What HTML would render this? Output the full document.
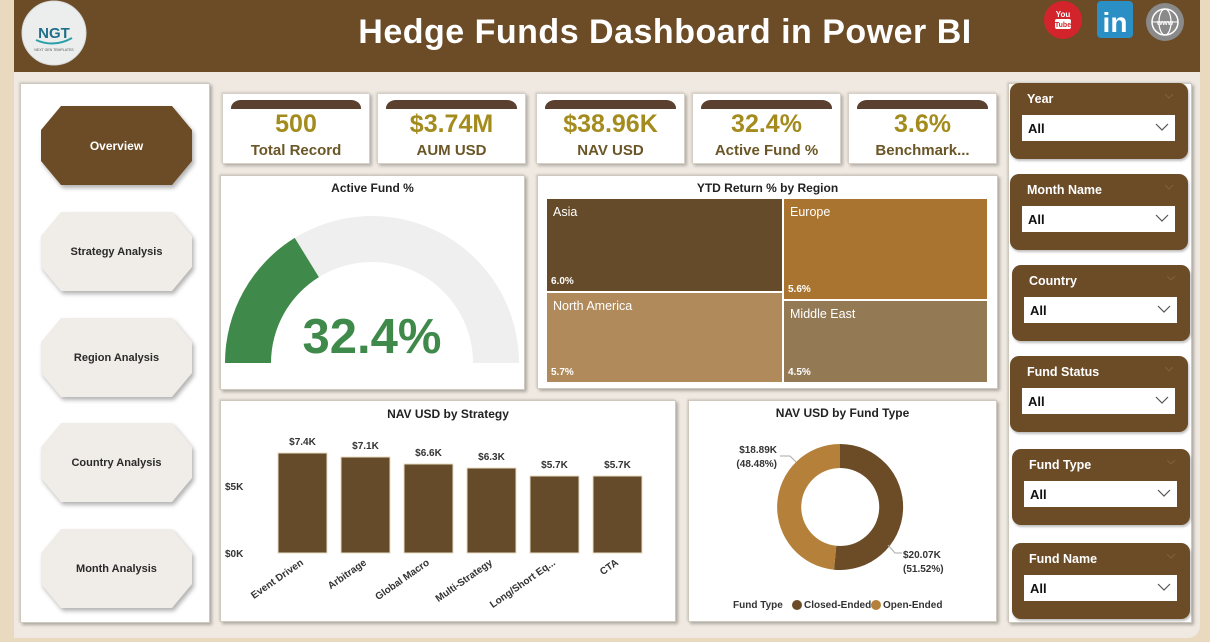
<!DOCTYPE html>
<html><head><meta charset="utf-8">
<style>
*{margin:0;padding:0;box-sizing:border-box}
html,body{width:1210px;height:642px;overflow:hidden;background:#e8d9bf;font-family:"Liberation Sans",sans-serif}
.abs{position:absolute}
#hdr{left:14px;top:0;width:1186px;height:72px;background:#6b4c27}
#main{left:14px;top:72px;width:1186px;height:566px;background:#efe9e1;border-radius:0 0 12px 0}
.panel{position:absolute;background:#fff;border:1px solid #cfc8bd;box-shadow:2px 2px 3px rgba(0,0,0,.28),-1px -1px 2px rgba(0,0,0,.12)}
.title{position:absolute;left:0;right:0;text-align:center;font-weight:bold;font-size:12px;color:#222}
.kpi{position:absolute;top:93px;height:71px;background:#fff;border:1px solid #d6d0c6;box-shadow:2px 2px 3px rgba(0,0,0,.25),-1px -1px 2px rgba(0,0,0,.1)}
.kpi .tab{position:absolute;left:8px;right:8px;top:6px;height:9px;background:#5b4030;border-radius:10px 10px 0 0/8px 8px 0 0}
.kpi .v{position:absolute;left:0;right:0;top:16px;text-align:center;font-weight:bold;font-size:25px;color:#a38c1d}
.kpi .l{position:absolute;left:0;right:0;top:48px;text-align:center;font-weight:bold;font-size:15px;color:#6a5626}
.nav{position:absolute;left:41px;width:151px;height:79px;filter:drop-shadow(2px 3px 2px rgba(0,0,0,.3))}
.nav div{width:100%;height:100%;clip-path:polygon(20px 0,131px 0,151px 24px,151px 55px,131px 79px,20px 79px,0 55px,0 24px);display:flex;align-items:center;justify-content:center;font-weight:bold;font-size:11px;color:#2a2a2a;background:#f0ece7}
.sl{position:absolute;width:178px;height:76px;background:#6b4c27;border-radius:9px;box-shadow:1px 2px 2px rgba(0,0,0,.25)}
.sl .t{position:absolute;left:17px;top:9px;font-weight:bold;font-size:12.5px;color:#fff}
.sl .c{position:absolute;right:14px;top:10px}
.sl .b{position:absolute;left:12px;top:32px;width:153px;height:26px;background:#fff}
.sl .b span{position:absolute;left:6px;top:6px;font-weight:bold;font-size:13px;color:#111}
.sl .b svg{position:absolute;right:6px;top:8px}
.tm{position:absolute;color:#fff}
.tm .n{position:absolute;left:6px;top:6px;font-size:12.5px}
.tm .p{position:absolute;left:4px;bottom:4px;font-size:10px;font-weight:bold}
</style></head><body>
<div id="hdr" class="abs"></div>
<div id="main" class="abs"></div>

<!-- logo -->
<svg class="abs" style="left:20px;top:0" width="70" height="68">
<circle cx="34" cy="33" r="32" fill="#eceeee" stroke="#d8dada" stroke-width="1"/>
<text x="34" y="38" text-anchor="middle" font-family="Liberation Sans" font-weight="bold" font-size="15" fill="#1f6f8b">NGT</text>
<path d="M16 40 Q34 48 52 38" stroke="#2aa0a8" stroke-width="2" fill="none"/>
<text x="34" y="51" text-anchor="middle" font-family="Liberation Sans" font-size="3.5" fill="#555">NEXT GEN TEMPLATES</text>
</svg>
<div class="abs" style="left:265px;top:13px;width:800px;text-align:center;color:#fff;font-weight:bold;font-size:34px;letter-spacing:0.5px">Hedge Funds Dashboard in Power BI</div>
<!-- icons -->
<svg class="abs" style="left:1040px;top:0" width="170" height="44">
<circle cx="23" cy="20" r="19" fill="#d4242b"/>
<text x="23" y="17" text-anchor="middle" font-family="Liberation Sans" font-weight="bold" font-size="8" fill="#fff">You</text>
<rect x="15" y="19" width="16" height="10" rx="2" fill="#fff"/>
<text x="23" y="27" text-anchor="middle" font-family="Liberation Sans" font-weight="bold" font-size="7" fill="#d4242b">Tube</text>
<rect x="57" y="1" width="36" height="37" rx="4" fill="#2a8fc4"/>
<text x="75" y="32" text-anchor="middle" font-family="Liberation Sans" font-weight="bold" font-size="28" fill="#fff">in</text>
<circle cx="125" cy="22" r="19" fill="#8a8a8a"/>
<circle cx="125" cy="22" r="13" fill="none" stroke="#fff" stroke-width="1.5"/>
<ellipse cx="125" cy="22" rx="6" ry="13" fill="none" stroke="#fff" stroke-width="1.2"/>
<line x1="112" y1="22" x2="138" y2="22" stroke="#fff" stroke-width="1"/>
<text x="125" y="25" text-anchor="middle" font-family="Liberation Sans" font-weight="bold" font-size="7" fill="#fff">www</text>
</svg>

<!-- left nav -->
<div class="panel" style="left:20px;top:83px;width:190px;height:540px"></div>
<div class="nav" style="top:106px"><div style="background:#6b4c27;color:#fff;font-size:12px">Overview</div></div>
<div class="nav" style="top:212px"><div>Strategy Analysis</div></div>
<div class="nav" style="top:318px"><div>Region Analysis</div></div>
<div class="nav" style="top:423px"><div>Country Analysis</div></div>
<div class="nav" style="top:529px"><div>Month Analysis</div></div>

<!-- KPIs -->
<div class="kpi" style="left:222px;width:148px"><div class="tab"></div><div class="v">500</div><div class="l">Total Record</div></div>
<div class="kpi" style="left:377px;width:149px"><div class="tab"></div><div class="v">$3.74M</div><div class="l">AUM USD</div></div>
<div class="kpi" style="left:536px;width:149px"><div class="tab"></div><div class="v">$38.96K</div><div class="l">NAV USD</div></div>
<div class="kpi" style="left:692px;width:149px"><div class="tab"></div><div class="v">32.4%</div><div class="l">Active Fund %</div></div>
<div class="kpi" style="left:848px;width:149px"><div class="tab"></div><div class="v">3.6%</div><div class="l">Benchmark...</div></div>

<!-- gauge -->
<div class="panel" style="left:220px;top:175px;width:305px;height:215px"><div class="title" style="top:5px">Active Fund %</div></div>
<svg class="abs" style="left:0;top:0" width="1210" height="642">
<path d="M225 363 A147 147 0 0 1 519 363 L473 363 A101 101 0 0 0 271 363 Z" fill="#efefef"/>
<path d="M225 363 A147 147 0 0 1 294.7 237.9 L318.9 277.1 A101 101 0 0 0 271 363 Z" fill="#3f8a4a"/>
<text x="372" y="353" text-anchor="middle" font-family="Liberation Sans" font-weight="bold" font-size="49" fill="#3f8a4a">32.4%</text>
</svg>

<!-- treemap -->
<div class="panel" style="left:537px;top:175px;width:461px;height:214px"><div class="title" style="top:5px">YTD Return % by Region</div></div>
<div class="tm" style="left:547px;top:199px;width:235px;height:92px;background:#654b29"><span class="n">Asia</span><span class="p">6.0%</span></div>
<div class="tm" style="left:547px;top:293px;width:235px;height:89px;background:#b08a5a"><span class="n">North America</span><span class="p">5.7%</span></div>
<div class="tm" style="left:784px;top:199px;width:203px;height:100px;background:#a9742f"><span class="n">Europe</span><span class="p">5.6%</span></div>
<div class="tm" style="left:784px;top:301px;width:203px;height:81px;background:#937a55"><span class="n">Middle East</span><span class="p">4.5%</span></div>

<!-- bar chart -->
<div class="panel" style="left:220px;top:400px;width:456px;height:222px"><div class="title" style="top:6px">NAV USD by Strategy</div></div>
<svg class="abs" style="left:0;top:0" width="1210" height="642" font-family="Liberation Sans" font-weight="bold" font-size="10" fill="#333">
<text x="225" y="490">$5K</text>
<text x="225" y="557">$0K</text>
<g fill="#654b29" stroke="#e8dcc4" stroke-width="1">
<rect x="278" y="453" width="49" height="100"/>
<rect x="341" y="457" width="49" height="96"/>
<rect x="404" y="464" width="49" height="89"/>
<rect x="467" y="468" width="49" height="85"/>
<rect x="530" y="476" width="49" height="77"/>
<rect x="593" y="476" width="49" height="77"/>
</g>
<g text-anchor="middle">
<text x="302.5" y="445">$7.4K</text>
<text x="365.5" y="449">$7.1K</text>
<text x="428.5" y="456">$6.6K</text>
<text x="491.5" y="460">$6.3K</text>
<text x="554.5" y="468">$5.7K</text>
<text x="617.5" y="468">$5.7K</text>
</g>
<g text-anchor="end">
<text x="304" y="564" transform="rotate(-35 304 564)">Event Driven</text>
<text x="367" y="564" transform="rotate(-35 367 564)">Arbitrage</text>
<text x="430" y="564" transform="rotate(-35 430 564)">Global Macro</text>
<text x="493" y="564" transform="rotate(-35 493 564)">Multi-Strategy</text>
<text x="556" y="564" transform="rotate(-35 556 564)">Long/Short Eq...</text>
<text x="619" y="564" transform="rotate(-35 619 564)">CTA</text>
</g>
</svg>

<!-- donut -->
<div class="panel" style="left:688px;top:400px;width:309px;height:222px"><div class="title" style="top:5px">NAV USD by Fund Type</div></div>
<svg class="abs" style="left:0;top:0" width="1210" height="642" font-family="Liberation Sans" font-weight="bold" font-size="10" fill="#333">
<path d="M840 444 A63 63 0 1 1 834 569.7 L836.3 545.8 A39 39 0 1 0 840 468 Z" fill="#6b4c27"/>
<path d="M834 569.7 A63 63 0 0 1 840 444 L840 468 A39 39 0 0 0 836.3 545.8 Z" fill="#b5803a"/>
<polyline points="780,456 790,456 796,462" fill="none" stroke="#aaa" stroke-width="1"/>
<polyline points="888,545 895,553 902,553" fill="none" stroke="#aaa" stroke-width="1"/>
<text x="777" y="453" text-anchor="end">$18.89K</text>
<text x="777" y="467" text-anchor="end">(48.48%)</text>
<text x="903" y="558">$20.07K</text>
<text x="903" y="572">(51.52%)</text>
<text x="733" y="608" font-size="10">Fund Type</text>
<circle cx="797" cy="605" r="5" fill="#6b4c27"/>
<text x="804" y="608">Closed-Ended</text>
<circle cx="876" cy="605" r="5" fill="#b5803a"/>
<text x="883" y="608">Open-Ended</text>
</svg>

<!-- right slicers -->
<div class="panel" style="left:1008px;top:83px;width:184px;height:540px"></div>
<div class="sl" style="left:1010px;top:83px"><div class="t">Year</div><svg class="c" width="10" height="6"><polyline points="1,1 5,5 9,1" fill="none" stroke="#7d6140" stroke-width="1"/></svg><div class="b"><span>All</span><svg width="14" height="9"><polyline points="1,1 7,7 13,1" fill="none" stroke="#555" stroke-width="1.2"/></svg></div></div>
<div class="sl" style="left:1010px;top:174px"><div class="t">Month Name</div><svg class="c" width="10" height="6"><polyline points="1,1 5,5 9,1" fill="none" stroke="#7d6140" stroke-width="1"/></svg><div class="b"><span>All</span><svg width="14" height="9"><polyline points="1,1 7,7 13,1" fill="none" stroke="#555" stroke-width="1.2"/></svg></div></div>
<div class="sl" style="left:1012px;top:265px"><div class="t">Country</div><svg class="c" width="10" height="6"><polyline points="1,1 5,5 9,1" fill="none" stroke="#7d6140" stroke-width="1"/></svg><div class="b"><span>All</span><svg width="14" height="9"><polyline points="1,1 7,7 13,1" fill="none" stroke="#555" stroke-width="1.2"/></svg></div></div>
<div class="sl" style="left:1010px;top:356px"><div class="t">Fund Status</div><svg class="c" width="10" height="6"><polyline points="1,1 5,5 9,1" fill="none" stroke="#7d6140" stroke-width="1"/></svg><div class="b"><span>All</span><svg width="14" height="9"><polyline points="1,1 7,7 13,1" fill="none" stroke="#555" stroke-width="1.2"/></svg></div></div>
<div class="sl" style="left:1012px;top:449px"><div class="t">Fund Type</div><svg class="c" width="10" height="6"><polyline points="1,1 5,5 9,1" fill="none" stroke="#7d6140" stroke-width="1"/></svg><div class="b"><span>All</span><svg width="14" height="9"><polyline points="1,1 7,7 13,1" fill="none" stroke="#555" stroke-width="1.2"/></svg></div></div>
<div class="sl" style="left:1012px;top:543px"><div class="t">Fund Name</div><svg class="c" width="10" height="6"><polyline points="1,1 5,5 9,1" fill="none" stroke="#7d6140" stroke-width="1"/></svg><div class="b"><span>All</span><svg width="14" height="9"><polyline points="1,1 7,7 13,1" fill="none" stroke="#555" stroke-width="1.2"/></svg></div></div>
</body></html>
